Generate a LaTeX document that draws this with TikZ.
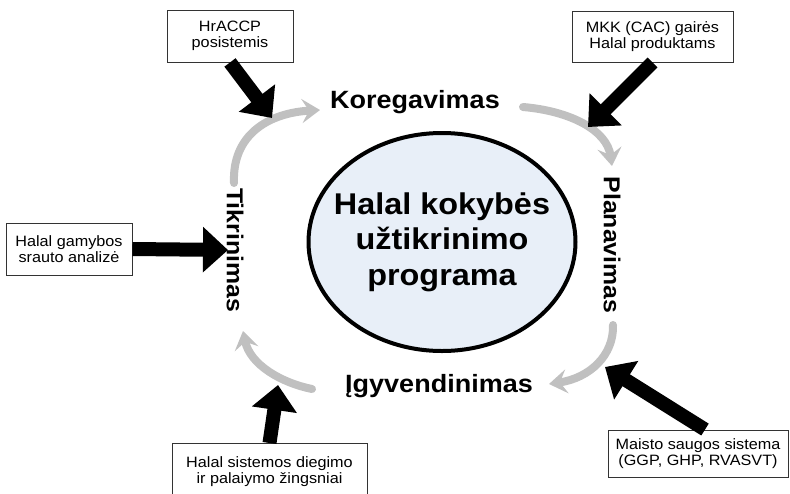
\documentclass[tikz,border=0pt]{standalone}
\usepackage{fontspec}
\setmainfont{Liberation Sans}[FakeStretch=1.08]
\usetikzlibrary{arrows.meta,shapes.geometric,calc}
\definecolor{ellfill}{RGB}{232,239,248}
\definecolor{cycgray}{RGB}{192,192,192}
\begin{document}
\begin{tikzpicture}[x=1pt,y=-1pt,
  infobox/.style={draw=black!80, line width=0.9pt, fill=white, align=center,
    font=\fontsize{15}{16}\selectfont, inner sep=0pt},
  phase/.style={font=\fontsize{25}{30}\selectfont\bfseries, inner sep=0pt},
  vphase/.style={font=\fontsize{23}{28}\selectfont\bfseries, inner sep=0pt, rotate=-90},
  blockarrow/.style={draw=black, line width=14pt, -{Triangle[length=25pt,width=44pt]}},
  cyc/.style={draw=cycgray, line width=8pt, line cap=round,
    -{Stealth[length=18pt,width=24pt,inset=7pt]}}]
\clip (0,0) rectangle (790,493);
\fill[white] (0,0) rectangle (790,493);

% centre
\node[ellipse, draw, line width=4pt, fill=ellfill, minimum width=267pt,
  minimum height=218pt, inner sep=0pt] (prog) at (442,242) {};
\node[align=center, inner sep=0pt,
  font=\fontsize{30}{35.5}\selectfont\bfseries] (progtxt) at (prog.center)
  {Halal kokybės\\užtikrinimo\\programa};

% phases
\node[phase, anchor=base] (kor) at (415,108) {Koregavimas};
\node[phase, anchor=base] (igy) at (439,392) {Įgyvendinimas};
\node[vphase] (pla) at (612,245) {Planavimas};
\node[vphase] (tik) at (235,250) {Tikrinimas};

% cycle arrows
\coordinate (a1) at (234,183); \coordinate (b1) at (320,110);
\coordinate (a2) at (523,107); \coordinate (b2) at (612,166);
\coordinate (a3) at (613,325); \coordinate (b3) at (549,384);
\coordinate (a4) at (312,389); \coordinate (b4) at (243,331);
\draw[cyc] (a1) .. controls (232,135) and (268,113) .. (b1);
\draw[cyc] (a2) .. controls (570,111) and (607,130) .. (b2);
\draw[cyc] (a3) .. controls (614,355) and (590,378) .. (b3);
\draw[cyc] (a4) .. controls (282,383) and (250,365) .. (b4);

% input boxes
\node[infobox, minimum width=126pt, minimum height=52pt] (hr) at (230,36)
  {HrACCP\\posistemis};
\node[infobox, minimum width=161pt, minimum height=51pt] (mkk) at (652.5,36.5)
  {MKK (CAC) gairės\\Halal produktams};
\node[infobox, minimum width=126pt, minimum height=52pt] (gam) at (69,249)
  {Halal gamybos\\srauto analizė};
\node[infobox, minimum width=195pt, minimum height=56pt, anchor=north] (die)
  at (269.5,443) {Halal sistemos diegimo\\ir palaiymo žingsniai};
\node[infobox, minimum width=180pt, minimum height=47pt] (mai) at (698,453.5)
  {Maisto saugos sistema\\(GGP, GHP, RVASVT)};

% input arrows
\coordinate (t1) at (272,118);
\coordinate (t2) at (588,127);
\coordinate (t3) at (228,250);
\coordinate (t4) at (278,385);
\coordinate (t5) at (605,367);
\draw[blockarrow] (hr.south) -- (t1);
\draw[blockarrow] (mkk.south) -- (t2);
\draw[blockarrow] (gam.east) -- (t3);
\draw[blockarrow] (die.north) -- (t4);
\draw[blockarrow] ($(mai.north)+(7,0)$) -- (t5);
\end{tikzpicture}
\end{document}
